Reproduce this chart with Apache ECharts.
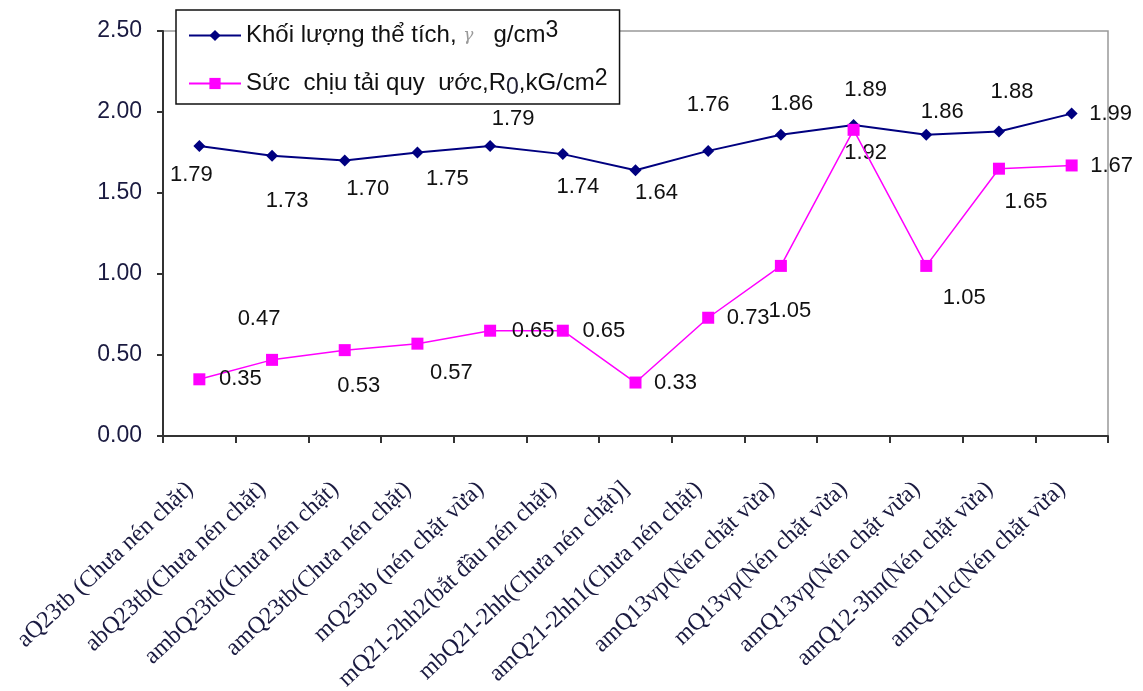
<!DOCTYPE html>
<html>
<head>
<meta charset="utf-8">
<script src="https://cdn.jsdelivr.net/npm/echarts@6/dist/echarts.min.js"></script>
<style>
html,body{margin:0;padding:0;background:#fff;}
#chart{width:1143px;height:691px;}
</style>
</head>
<body>
<div id="chart"></div>
<script>
const categories = [
  'aQ23tb (Chưa nén chặt)',
  'abQ23tb(Chưa nén chặt)',
  'ambQ23tb(Chưa nén chặt)',
  'amQ23tb(Chưa nén chặt)',
  'mQ23tb (nén chặt vừa)',
  'mQ21-2hh2(bắt đầu nén chặt)',
  'mbQ21-2hh(Chưa nén chặt)]',
  'amQ21-2hh1(Chưa nén chặt)',
  'amQ13vp(Nén chặt vừa)',
  'mQ13vp(Nén chặt vừa)',
  'amQ13vp(Nén chặt vừa)',
  'amQ12-3hn(Nén chặt vừa)',
  'amQ11lc(Nén chặt vừa)'
];
const seriesNames = ['Khối lượng thể tích, γ  g/cm3', 'Sức chịu tải quy ước, R0, kG/cm2'];
const gammaValues = [1.79, 1.73, 1.70, 1.75, 1.79, 1.74, 1.64, 1.76, 1.86, 1.92, 1.86, 1.88, 1.99];
const r0Values = [0.35, 0.47, 0.53, 0.57, 0.65, 0.65, 0.33, 0.73, 1.05, 1.89, 1.05, 1.65, 1.67];
const yMin = 0, yMax = 2.5, yStep = 0.5;

// label placement (style only): offsets of label centre from the marker
const gammaLabelOffset = [[-8,29],[15,45],[23,28],[30,26],[23,-27],[15,33],[21,23],[0,-46],[11,-31],[12,28],[16,-23],[13,-40],[39,0]];
const r0LabelOffset = [[41,0],[-13,-41],[14,36],[34,29],[43,0],[41,0],[40,0],[40,0],[9,45],[12,-40],[38,32],[27,33],[40,0]];

const labelFont = {fontFamily: 'Liberation Sans, Arial, sans-serif', fontSize: 22, color: '#111'};

function buildData(values, offsets) {
  return values.map((v, i) => ({
    value: v,
    label: {position: 'inside', offset: offsets[i]}
  }));
}

const chart = echarts.init(document.getElementById('chart'), null, {renderer: 'canvas'});
const option = {
  backgroundColor: '#fff',
  animation: false,
  grid: {left: 163, right: 35, top: 31, bottom: 255, containLabel: false, outerBoundsMode: 'none',
         show: true, borderColor: '#999', borderWidth: 1.5, backgroundColor: 'transparent'},
  legend: {
    orient: 'vertical',
    left: 176, top: 10,
    padding: [9, 12, 4, 12],
    itemGap: 15,
    itemWidth: 52, itemHeight: 14,
    borderColor: '#111', borderWidth: 1.5,
    backgroundColor: '#fff',
    data: seriesNames,
    formatter: function (name) {
      if (name === seriesNames[0]) return 'Khối lượng thể tích, {g|γ}   g/cm{sup|3}';
      return 'Sức  chịu tải quy  ước,R{sub|0},kG/cm{sup|2}';
    },
    textStyle: {
      fontFamily: 'Liberation Sans, Arial, sans-serif', fontSize: 24, color: '#111', lineHeight: 26,
      rich: {
        g: {fontFamily: 'DejaVu Serif, serif', fontStyle: 'italic', fontSize: 17, color: '#999', lineHeight: 26},
        sup: {fontSize: 23, color: '#111', lineHeight: 26, padding: [0, 0, 10, 0]},
        sub: {fontSize: 23, color: '#223', lineHeight: 26, padding: [8, 0, 0, 0]}
      }
    }
  },
  xAxis: {
    type: 'category',
    data: categories,
    boundaryGap: true,
    axisLine: {lineStyle: {color: '#333', width: 2}},
    axisTick: {show: true, length: 7, alignWithLabel: false, lineStyle: {color: '#333', width: 2}},
    axisLabel: {
      interval: 0, rotate: 43, margin: 41, padding: [0, 13, 0, 0],
      fontFamily: 'Liberation Serif, Times New Roman, serif', fontSize: 24, color: '#1a1a40'
    },
    splitLine: {show: false}
  },
  yAxis: {
    type: 'value',
    min: yMin, max: yMax, interval: yStep,
    axisLine: {show: true, lineStyle: {color: '#333', width: 2}},
    axisTick: {show: true, length: 6, inside: false, lineStyle: {color: '#333', width: 2}},
    axisLabel: {
      margin: 21, formatter: v => v.toFixed(2),
      fontFamily: 'Liberation Sans, Arial, sans-serif', fontSize: 23, color: '#1a1a40'
    },
    splitLine: {show: false}
  },
  series: [
    {
      name: seriesNames[0], type: 'line',
      data: buildData(gammaValues, gammaLabelOffset),
      symbol: 'diamond', symbolSize: 12,
      lineStyle: {color: '#000080', width: 2},
      itemStyle: {color: '#000080'},
      label: Object.assign({show: true, formatter: p => p.value.toFixed(2)}, labelFont),
      z: 2
    },
    {
      name: seriesNames[1], type: 'line',
      data: buildData(r0Values, r0LabelOffset),
      symbol: 'rect', symbolSize: 12,
      lineStyle: {color: '#FF00FF', width: 1.5},
      itemStyle: {color: '#FF00FF'},
      label: Object.assign({show: true, formatter: p => p.value.toFixed(2)}, labelFont),
      z: 3
    }
  ]
};
chart.setOption(option);
</script>
</body>
</html>
